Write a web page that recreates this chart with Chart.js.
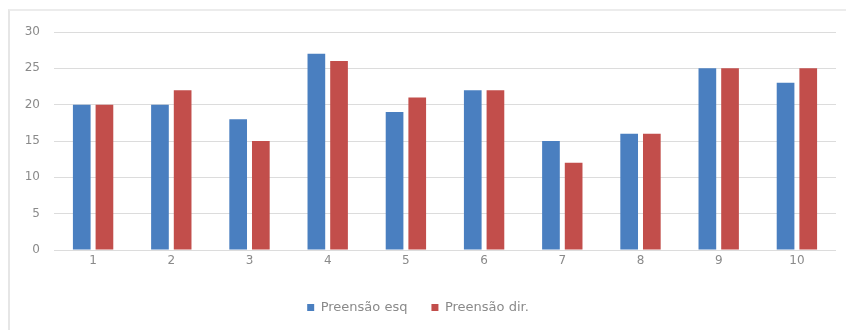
<!DOCTYPE html>
<html>
<head>
<meta charset="utf-8">
<script src="https://cdn.jsdelivr.net/npm/chart.js@4"></script>
<style>
  html, body { margin: 0; padding: 0; background: #fff; overflow: hidden; }
  #frame {
    position: absolute; left: 8px; top: 9px; width: 836px; height: 330px;
    border-left: 2px solid #e6e6e6; border-top: 2px solid #ececec;
  }
  #wrap { position: absolute; left: 0; top: 0; width: 846px; height: 330px; }
</style>
</head>
<body>
<div id="frame"></div>
<div id="wrap"><canvas id="grip"></canvas></div>
<script>
// sujeitos 1..10
const categories = ['1', '2', '3', '4', '5', '6', '7', '8', '9', '10'];
const preensaoEsq = [20, 20, 18, 27, 19, 22, 15, 16, 25, 23];
const preensaoDir = [20, 22, 15, 26, 21, 22, 12, 16, 25, 25];
const yTicks = [0, 5, 10, 15, 20, 25, 30];

const txt = '#8a8a8a';
const font = { family: 'DejaVu Sans', size: 12 };

const chart = new Chart(document.getElementById('grip'), {
    type: 'bar',
    data: {
        labels: categories,
        datasets: [
            { label: 'Preensão esq', data: preensaoEsq, backgroundColor: '#4a7fc0' },
            { label: 'Preensão dir.', data: preensaoDir, backgroundColor: '#c24e4b' }
        ]
    },
    options: {
        responsive: true,
        maintainAspectRatio: false,
        animation: false,
        layout: { padding: { top: 32, right: 10, bottom: 6, left: 0 } },
        datasets: { bar: { categoryPercentage: 0.58, barPercentage: 0.78 } },
        scales: {
            x: {
                grid: { display: false, drawTicks: false },
                border: { display: false },
                ticks: { color: txt, font, padding: 4 },
                afterFit: (s) => { s.height = 27; }
            },
            y: {
                min: 0,
                max: 30,
                afterBuildTicks: (s) => { s.ticks = yTicks.map(v => ({ value: v })); },
                grid: { color: '#dcdcdc', drawTicks: false },
                border: { display: false },
                ticks: { color: txt, font, padding: 14 },
                afterFit: (s) => { s.width = 54; }
            }
        },
        plugins: {
            tooltip: { enabled: false },
            legend: {
                position: 'bottom',
                labels: {
                    color: txt,
                    font: { family: 'DejaVu Sans', size: 13 },
                    boxWidth: 7, boxHeight: 7, padding: 24
                }
            }
        }
    }
});
</script>
</body>
</html>
